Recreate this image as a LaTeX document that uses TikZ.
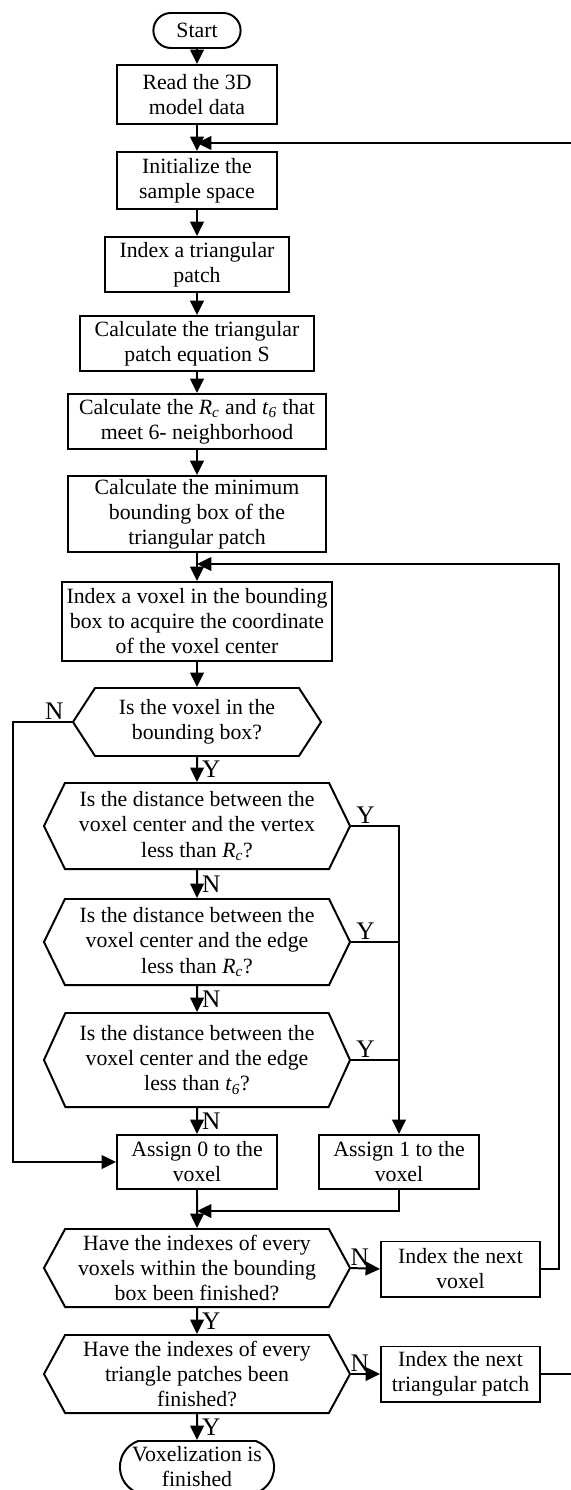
\documentclass[tikz,border=0pt]{standalone}
\usepackage{fontspec}
\setmainfont{Liberation Serif}
\usepackage{tikz}
\usetikzlibrary{arrows.meta, shapes.symbols, shapes.misc}

\newcommand{\rcval}{\textit{R}\textsubscript{\textit{c}}}
\newcommand{\tsixval}{\textit{t}\textsubscript{\textit{6}}}

\tikzset{
  stepbox/.style={draw, rectangle, line width=1.4pt, align=center, inner sep=1pt,
    font=\fontsize{15.5}{17.8}\selectfont},
  termbox/.style={draw, rounded rectangle, line width=1.4pt, align=center, inner sep=1pt,
    font=\fontsize{15.5}{17.8}\selectfont},
  askbox/.style={draw, signal, signal to=west and east, line width=1.4pt, align=center,
    inner sep=1pt, font=\fontsize{15.5}{17.8}\selectfont},
  flow/.style={line width=1.4pt, -{Triangle[length=0.36cm, width=0.34cm]}},
  yn/.style={font=\fontsize{18}{18}\selectfont, inner sep=1pt},
}

\begin{document}
\begin{tikzpicture}[x=0.025cm, y=-0.025cm]
  \useasboundingbox (0,0) rectangle (571,1490);

  \node[termbox, minimum width=2.25cm, minimum height=0.875cm] (start) at (197,30.5) {Start};
  \node[stepbox, minimum width=3.975cm, minimum height=1.475cm] (read) at (197,94.5) {Read the 3D\\model data};
  \node[stepbox, minimum width=3.975cm, minimum height=1.425cm] (init) at (197,180.5) {Initialize the\\sample space};
  \node[stepbox, minimum width=4.6cm, minimum height=1.375cm] (idxtri) at (197,264.5) {Index a triangular\\patch};
  \node[stepbox, minimum width=5.825cm, minimum height=1.375cm] (calctri) at (197,343.5) {Calculate the triangular\\patch equation S};
  \node[stepbox, minimum width=6.45cm, minimum height=1.375cm] (calcrc) at (197,421.5) {Calculate the \rcval{} and \tsixval{} that\\meet 6- neighborhood};
  \node[stepbox, minimum width=6.45cm, minimum height=1.9cm] (calcmin) at (197,514) {Calculate the minimum\\bounding box of the\\triangular patch};
  \node[stepbox, minimum width=6.75cm, minimum height=1.975cm] (idxvox) at (197,621.5) {Index a voxel in the bounding\\box to acquire the coordinate\\of the voxel center};

  \node[askbox, signal pointer angle=114, minimum width=6.2cm, minimum height=1.7cm] (inbox) at (197,722) {Is the voxel in the\\bounding box?};
  \node[askbox, signal pointer angle=128, minimum width=7.65cm, minimum height=2.15cm] (vertex) at (197,826) {Is the distance between the\\voxel center and the vertex\\less than \rcval?};
  \node[askbox, signal pointer angle=128, minimum width=7.65cm, minimum height=2.15cm] (edgerc) at (197,942) {Is the distance between the\\voxel center and the edge\\less than \rcval?};
  \node[askbox, signal pointer angle=131, minimum width=7.65cm, minimum height=2.35cm] (edgets) at (197,1060) {Is the distance between the\\voxel center and the edge\\less than \tsixval?};

  \node[stepbox, minimum width=4cm, minimum height=1.35cm] (zero) at (197,1162) {Assign 0 to the\\voxel};
  \node[stepbox, minimum width=4cm, minimum height=1.35cm] (one) at (399,1162) {Assign 1 to the\\voxel};

  \node[askbox, signal pointer angle=123, minimum width=7.65cm, minimum height=1.95cm] (allvox) at (197,1268) {Have the indexes of every\\voxels within the bounding\\box been finished?};
  \node[stepbox, minimum width=3.975cm, minimum height=1.375cm] (nextvox) at (460.5,1269) {Index the next\\voxel};
  \node[askbox, signal pointer angle=123, minimum width=7.65cm, minimum height=1.95cm] (alltri) at (197,1374) {Have the indexes of every\\triangle patches been\\finished?};
  \node[stepbox, minimum width=3.975cm, minimum height=1.375cm] (nexttri) at (460.5,1374) {Index the next\\triangular patch};
  \node[termbox, rounded rectangle arc length=140, minimum width=3.925cm, minimum height=1.3cm] (finish) at (197,1467) {Voxelization is\\finished};

  \coordinate (leftrail) at (13,722);
  \coordinate (yrail) at (399,826);
  \coordinate (mergein) at (197,1211);
  \coordinate (voxrail) at (559,564);
  \coordinate (voxin) at (197,564);
  \coordinate (trirail) at (574,143);
  \coordinate (triin) at (197,143);

  \draw[flow] (start) -- (read);
  \draw[flow] (read) -- (init);
  \draw[flow] (init) -- (idxtri);
  \draw[flow] (idxtri) -- (calctri);
  \draw[flow] (calctri) -- (calcrc);
  \draw[flow] (calcrc) -- (calcmin);
  \draw[flow] (calcmin) -- (idxvox);
  \draw[flow] (idxvox) -- (inbox);
  \draw[flow] (inbox) -- node[yn, right, xshift=2pt] {Y} (vertex);
  \draw[flow] (vertex) -- node[yn, right, xshift=2pt] {N} (edgerc);
  \draw[flow] (edgerc) -- node[yn, right, xshift=2pt] {N} (edgets);
  \draw[flow] (edgets) -- node[yn, right, xshift=2pt] {N} (zero);
  \draw[flow] (zero) -- (allvox);
  \draw[flow] (allvox) -- node[yn, right, xshift=2pt] {Y} (alltri);
  \draw[flow] (alltri) -- node[yn, right, xshift=2pt] {Y} (finish);

  \draw[flow] (inbox.west) -- node[yn, above, pos=0.3] {N} (leftrail) |- (zero.west);
  \draw[flow] (vertex.east) -- node[yn, above, pos=0.3] {Y} (yrail) -- (one.north);
  \draw[line width=1.4pt] (edgerc.east) -- node[yn, above, pos=0.3] {Y} (yrail |- edgerc.east);
  \draw[line width=1.4pt] (edgets.east) -- node[yn, above, pos=0.3] {Y} (yrail |- edgets.east);
  \draw[flow] (one.south) |- (mergein);

  \draw[flow] (allvox.east) -- node[yn, above, pos=0.3] {N} (nextvox.west);
  \draw[flow] (alltri.east) -- node[yn, above, pos=0.3] {N} (nexttri.west);
  \draw[flow] (nextvox.east) -| (voxrail) -- (voxin);
  \draw[flow] (nexttri.east) -| (trirail) -- (triin);
\end{tikzpicture}
\end{document}
